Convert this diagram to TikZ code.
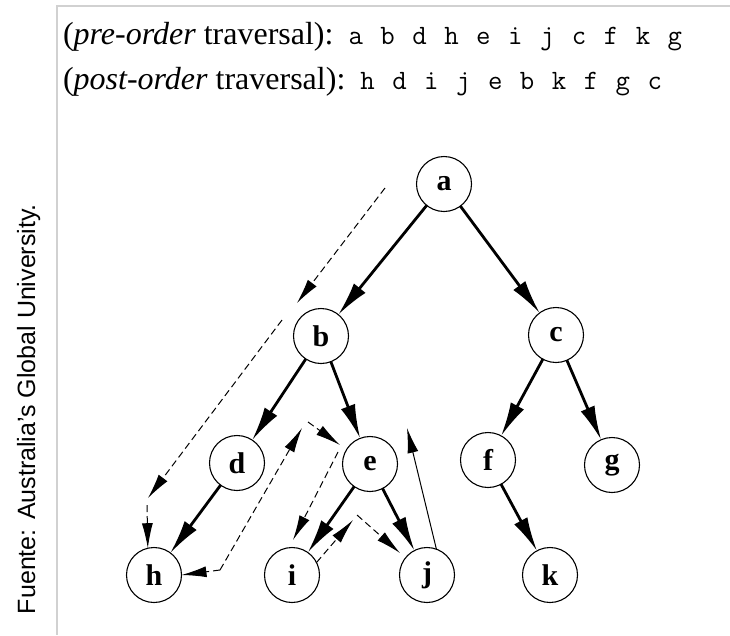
\documentclass[tikz,border=0pt]{standalone}
\usepackage{fontspec}
\setmainfont{Liberation Serif}
\newfontfamily\notefont{Liberation Sans}
\usetikzlibrary{arrows.meta}
\newcommand{\defaultvertexsize}{55pt}
\newcommand{\vertexsize}{\defaultvertexsize}
\newcommand{\visits}[1]{\hspace{15pt}{\ttfamily\fontsize{28}{28}\selectfont\spaceskip=17.5pt\relax #1}}
\definecolor{framegray}{gray}{0.82}
\tikzstyle{vertex}=[draw, circle, line width=1.1pt, inner sep=0, outer sep=0, minimum size=\vertexsize,
                    font=\fontsize{30}{30}\selectfont\bfseries]
\tikzstyle{edge}=[line width=2.8pt, -{Latex[length=34pt, width=15pt]}]
\tikzstyle{walk}=[line width=1pt, dash pattern=on 7pt off 4pt, -{Latex[length=25pt, width=11pt]}]
\tikzstyle{climb}=[walk, solid]
\tikzstyle{traversal}=[x=1pt, y=-1pt,
                       % Plain labels sit on their baseline.
                       every node/.style={inner sep=0, outer sep=0}]
\begin{document}
\begin{tikzpicture}[traversal]
    \useasboundingbox (0,0) rectangle (730,635);
    \draw[framegray, line width=1.6pt] (730,6) -- (57,6) -- (57,635);
    \node[anchor=base west, font=\fontsize{32}{32}\selectfont] (preorder) at (63,44)
        {(\textit{pre-order} traversal):\visits{a b d h e i j c f k g}};
    \node[anchor=base west, font=\fontsize{32}{32}\selectfont] (postorder) at (63,89)
        {(\textit{post-order} traversal):\visits{h d i j e b k f g c}};
    \node[rotate=90, anchor=base west, font=\notefont\fontsize{25}{25}\selectfont] (source) at (35,614)
        {Fuente: Australia’s Global University.};
    % the tree
    \node[vertex] (a) at (444,184) {a};
    \node[vertex] (b) at (321,336) {b};
    \node[vertex] (c) at (556,335) {c};
    \node[vertex] (d) at (237,463) {d};
    \node[vertex] (e) at (370,464) {e};
    \node[vertex] (f) at (488,460) {f};
    \node[vertex] (g) at (612,465) {g};
    \node[vertex] (h) at (154,575) {h};
    \node[vertex] (i) at (292,575) {i};
    \node[vertex] (j) at (427,575) {j};
    \node[vertex] (k) at (550,575) {k};
    \draw[edge] (a) -- (b);
    \draw[edge] (a) -- (c);
    \draw[edge] (b) -- (d);
    \draw[edge] (b) -- (e);
    \draw[edge] (d) -- (h);
    \draw[edge] (e) -- (i);
    \draw[edge] (e) -- (j);
    \draw[edge] (c) -- (f);
    \draw[edge] (c) -- (g);
    \draw[edge] (f) -- (k);
    % the walk round the left subtree
    \coordinate (w1) at (385,188);
    \coordinate (w2) at (297,303);
    \coordinate (w3) at (282,320);
    \coordinate (w4) at (148,498);
    \coordinate (w5) at (147,505);
    \coordinate (w6) at (220,570);
    \coordinate (w7) at (302,428);
    \coordinate (w8) at (308,422);
    \coordinate (w9) at (340,445);
    \coordinate (w10) at (338,452);
    \coordinate (w11) at (293,540);
    \coordinate (w12) at (353,520);
    \coordinate (w13) at (357,515);
    \coordinate (w14) at (400,553);
    \coordinate (w15) at (407,428);
    \draw[walk] (w1) -- (w2);
    \draw[walk] (w3) -- (w4);
    \draw[walk] (w5) -- (h.103);
    \draw[walk] (w6) -- (h.east);
    \draw[walk] (w6) -- (w7);
    \draw[walk] (w8) -- (w9);
    \draw[walk] (w10) -- (w11);
    \draw[walk] (i.27) -- (w12);
    \draw[walk] (w13) -- (w14);
    \draw[climb] (j.70) -- (w15);
\end{tikzpicture}
\end{document}
